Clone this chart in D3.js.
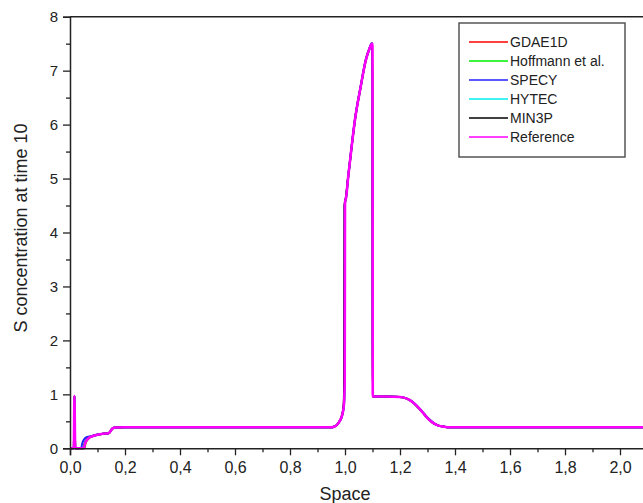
<!DOCTYPE html>
<html>
<head>
<meta charset="utf-8">
<title>S concentration at time 10</title>
<script src="https://d3js.org/d3.v7.min.js"></script>
<style>
  body { margin: 0; background: #fff; }
  text { font-family: Arial, "Liberation Sans", sans-serif; }
</style>
</head>
<body>
<svg id="chart" width="643" height="503"></svg>
<script>
// series (x = space, y = S concentration)
var gdae1d = [[0,0],[0.014,0],[0.016,0.97],[0.019,0],[0.052,0],[0.057,0.10],[0.064,0.16],[0.072,0.2],[0.08,0.22],[0.1,0.25],[0.12,0.27],[0.14,0.28],[0.145,0.3],[0.15,0.34],[0.155,0.37],[0.165,0.385],[0.2,0.39],[0.95,0.39],[0.96,0.40],[0.97,0.43],[0.98,0.5],[0.99,0.63],[0.996,0.82],[0.999,1.2],[1.0,4.55],[1.004,4.65],[1.012,5.05],[1.021,5.45],[1.036,6.08],[1.057,6.70],[1.076,7.2],[1.09,7.42],[1.097,7.5],[1.1,7.5],[1.101,0.96],[1.15,0.96],[1.2,0.95],[1.22,0.93],[1.24,0.88],[1.26,0.79],[1.28,0.68],[1.3,0.56],[1.32,0.47],[1.34,0.42],[1.36,0.40],[1.38,0.39],[2.1,0.39]];
var hoffmann = [[0,0],[0.014,0],[0.016,0.97],[0.019,0],[0.048,0],[0.053,0.10],[0.061,0.16],[0.07,0.2],[0.08,0.22],[0.1,0.25],[0.12,0.27],[0.14,0.28],[0.145,0.3],[0.15,0.34],[0.155,0.37],[0.165,0.385],[0.2,0.39],[0.95,0.39],[0.96,0.40],[0.97,0.43],[0.98,0.5],[0.99,0.62],[0.996,0.8],[0.999,1.2],[1.0,4.55],[1.004,4.65],[1.012,5.05],[1.021,5.45],[1.036,6.08],[1.057,6.70],[1.076,7.2],[1.09,7.42],[1.097,7.5],[1.1,7.5],[1.101,0.96],[1.15,0.96],[1.2,0.95],[1.22,0.93],[1.24,0.88],[1.26,0.79],[1.28,0.68],[1.3,0.56],[1.32,0.47],[1.34,0.42],[1.36,0.40],[1.38,0.39],[2.1,0.39]];
var specy = [[0,0],[0.014,0],[0.016,0.97],[0.019,0],[0.04,0],[0.045,0.10],[0.052,0.17],[0.062,0.21],[0.08,0.23],[0.1,0.255],[0.12,0.27],[0.14,0.28],[0.145,0.3],[0.15,0.34],[0.155,0.37],[0.165,0.385],[0.2,0.39],[0.95,0.39],[0.96,0.40],[0.97,0.43],[0.98,0.5],[0.99,0.62],[0.996,0.8],[0.998,1.2],[0.999,4.5],[1.004,4.66],[1.012,5.06],[1.021,5.46],[1.036,6.09],[1.057,6.71],[1.076,7.21],[1.09,7.43],[1.097,7.51],[1.1,7.51],[1.101,0.96],[1.15,0.96],[1.2,0.95],[1.22,0.93],[1.24,0.88],[1.26,0.8],[1.28,0.69],[1.3,0.57],[1.32,0.48],[1.34,0.42],[1.36,0.40],[1.38,0.39],[2.1,0.39]];
var hytec = [[0,0],[0.014,0],[0.016,0.97],[0.019,0],[0.05,0],[0.055,0.10],[0.062,0.16],[0.07,0.2],[0.08,0.22],[0.1,0.25],[0.12,0.27],[0.14,0.28],[0.145,0.3],[0.15,0.34],[0.155,0.37],[0.165,0.385],[0.2,0.39],[0.95,0.39],[0.96,0.40],[0.97,0.43],[0.98,0.5],[0.99,0.62],[0.996,0.8],[0.999,1.2],[1.0,4.55],[1.004,4.65],[1.012,5.05],[1.021,5.45],[1.036,6.08],[1.057,6.70],[1.076,7.2],[1.09,7.42],[1.097,7.5],[1.1,7.5],[1.101,0.96],[1.15,0.96],[1.2,0.95],[1.22,0.93],[1.24,0.88],[1.26,0.79],[1.28,0.68],[1.3,0.56],[1.32,0.47],[1.34,0.42],[1.36,0.40],[1.38,0.39],[2.1,0.39]];
var min3p = [[0,0],[0.014,0],[0.016,0.97],[0.019,0],[0.05,0],[0.055,0.10],[0.062,0.16],[0.07,0.2],[0.08,0.22],[0.1,0.25],[0.12,0.27],[0.14,0.28],[0.145,0.3],[0.15,0.34],[0.155,0.37],[0.165,0.385],[0.2,0.39],[0.95,0.39],[0.96,0.40],[0.97,0.43],[0.98,0.5],[0.99,0.62],[0.995,0.8],[0.997,1.2],[0.998,4.5],[1.003,4.64],[1.012,5.05],[1.021,5.45],[1.036,6.08],[1.057,6.70],[1.076,7.2],[1.09,7.42],[1.097,7.5],[1.1,7.5],[1.101,0.96],[1.15,0.96],[1.2,0.95],[1.22,0.93],[1.24,0.88],[1.26,0.79],[1.28,0.68],[1.3,0.56],[1.32,0.47],[1.34,0.42],[1.36,0.40],[1.38,0.39],[2.1,0.39]];
var reference = [[0,0],[0.014,0],[0.016,0.97],[0.019,0],[0.05,0],[0.055,0.10],[0.062,0.16],[0.07,0.2],[0.08,0.22],[0.1,0.25],[0.12,0.27],[0.14,0.28],[0.145,0.3],[0.15,0.34],[0.155,0.37],[0.165,0.385],[0.2,0.39],[0.95,0.39],[0.96,0.40],[0.97,0.43],[0.98,0.5],[0.99,0.62],[0.996,0.8],[0.999,1.2],[1.0,4.55],[1.004,4.65],[1.012,5.05],[1.021,5.45],[1.036,6.08],[1.057,6.70],[1.076,7.2],[1.09,7.42],[1.097,7.5],[1.1,7.5],[1.101,0.96],[1.15,0.96],[1.2,0.95],[1.22,0.93],[1.24,0.88],[1.26,0.79],[1.28,0.68],[1.3,0.56],[1.32,0.47],[1.34,0.42],[1.36,0.40],[1.38,0.39],[2.1,0.39]];

var seriesNames = ["GDAE1D", "Hoffmann et al.", "SPECY", "HYTEC", "MIN3P", "Reference"];
var seriesColors = ["#ff0000", "#00ee00", "#2222ff", "#00eeee", "#000000", "#ff00ff"];
var seriesData = [gdae1d, hoffmann, specy, hytec, min3p, reference];

var xMajor = [0, 0.2, 0.4, 0.6, 0.8, 1.0, 1.2, 1.4, 1.6, 1.8, 2.0];
var xMinor = [0.1, 0.3, 0.5, 0.7, 0.9, 1.1, 1.3, 1.5, 1.7, 1.9];
var yMajor = [0, 1, 2, 3, 4, 5, 6, 7, 8];
var yMinor = [0.5, 1.5, 2.5, 3.5, 4.5, 5.5, 6.5, 7.5];

var svg = d3.select("#chart");

var x = d3.scaleLinear().domain([0, 2.1]).range([70, 647.5]);
var y = d3.scaleLinear().domain([0, 8]).range([448.3, 16.7]);

// top frame
svg.append("line")
  .attr("x1", x(0)).attr("x2", 643)
  .attr("y1", y(8)).attr("y2", y(8))
  .attr("stroke", "#222").attr("stroke-width", 1.5);

// lines
var line = d3.line()
  .x(function(d){ return x(d[0]); })
  .y(function(d){ return y(d[1]); })
  .curve(d3.curveMonotoneX);

for (var i = 0; i < seriesData.length; i++) {
  svg.append("path")
    .datum(seriesData[i])
    .attr("d", line)
    .attr("fill", "none")
    .attr("stroke", seriesColors[i])
    .attr("stroke-width", i == 5 ? 2.6 : 2)
    .attr("stroke-linejoin", "round");
}

// axes
svg.append("g")
  .attr("class", "xaxis")
  .attr("transform", "translate(0," + y(0) + ")")
  .call(d3.axisBottom(x).tickValues(xMajor).tickSize(7).tickPadding(6)
    .tickFormat(function(d){ return d3.format(".1f")(d).replace(".", ","); }));
svg.append("g")
  .attr("transform", "translate(0," + y(0) + ")")
  .call(d3.axisBottom(x).tickValues(xMinor).tickSize(4).tickFormat(""))
  .select(".domain").remove();

svg.append("g")
  .attr("class", "yaxis")
  .attr("transform", "translate(" + x(0) + ",0)")
  .call(d3.axisLeft(y).tickValues(yMajor).tickSize(7).tickPadding(5).tickFormat(d3.format("d")));
svg.append("g")
  .attr("transform", "translate(" + x(0) + ",0)")
  .call(d3.axisLeft(y).tickValues(yMinor).tickSize(4).tickFormat(""))
  .select(".domain").remove();

svg.selectAll(".domain").attr("stroke", "#222").attr("stroke-width", 1.5);
svg.selectAll(".tick line").attr("stroke", "#222").attr("stroke-width", 1.3);
svg.selectAll(".tick text")
  .attr("fill", "#222")
  .style("font-size", "15px")
  .style("font-family", "Arial, 'Liberation Sans', sans-serif");
svg.selectAll(".xaxis .tick text").style("font-size", "16px");

// axis titles
svg.append("text")
  .attr("x", 345).attr("y", 500)
  .attr("text-anchor", "middle")
  .style("font-size", "18px")
  .attr("fill", "#222")
  .text("Space");

svg.append("text")
  .attr("transform", "translate(27,228) rotate(-90)")
  .attr("text-anchor", "middle")
  .style("font-size", "18px")
  .attr("fill", "#222")
  .text("S concentration at time 10");

// legend
var legend = svg.append("g");
legend.append("rect")
  .attr("x", 459).attr("y", 23)
  .attr("width", 166).attr("height", 134)
  .attr("fill", "#fff")
  .attr("stroke", "#555").attr("stroke-width", 1.5);

for (var j = 0; j < seriesNames.length; j++) {
  var ly = 42 + j * 19;
  legend.append("line")
    .attr("x1", 469).attr("x2", 508)
    .attr("y1", ly).attr("y2", ly)
    .attr("stroke", seriesColors[j]).attr("stroke-width", 1.5);
  legend.append("text")
    .attr("x", 510).attr("y", ly + 5)
    .style("font-size", "14px")
    .attr("fill", "#222")
    .text(seriesNames[j]);
}
</script>
</body>
</html>
